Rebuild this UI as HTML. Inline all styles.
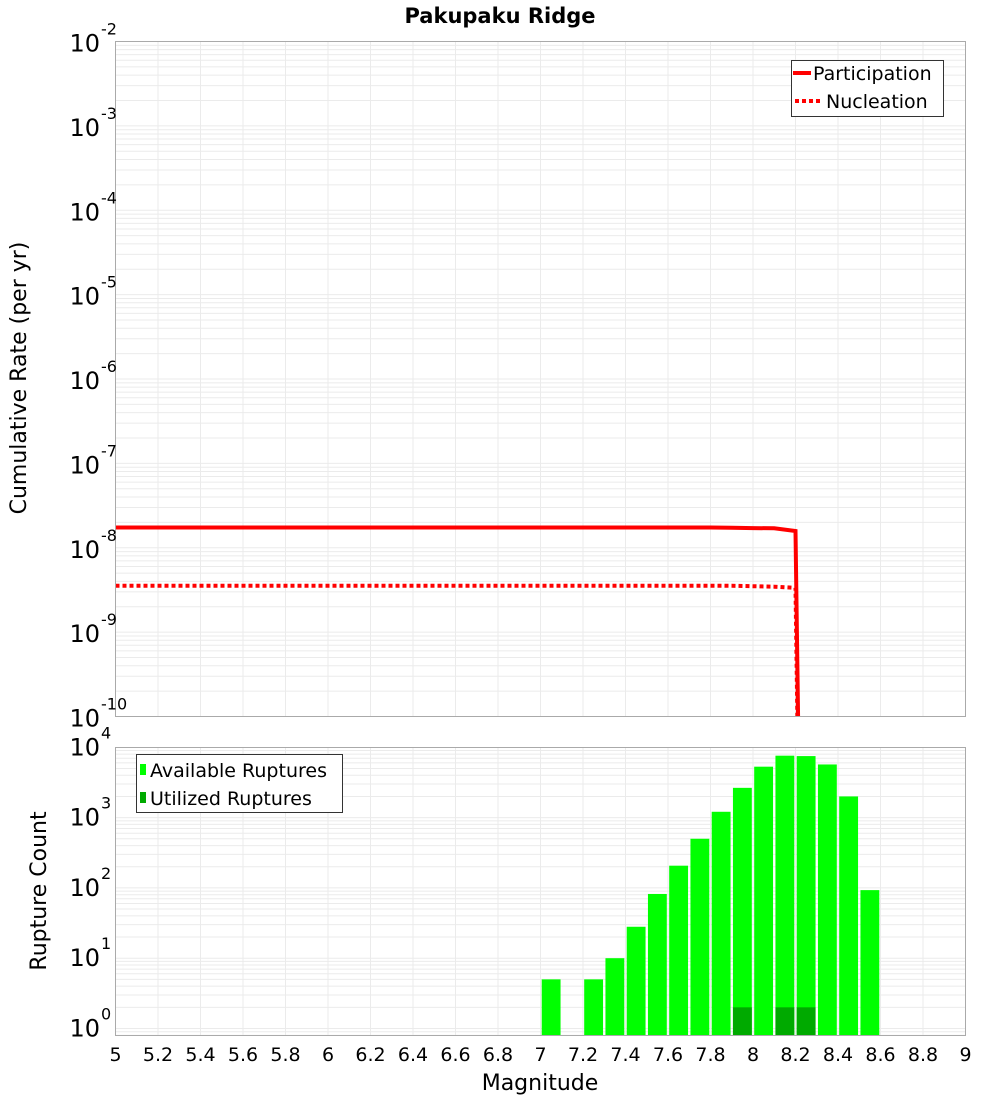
<!DOCTYPE html>
<html><head><meta charset="utf-8"><style>
html,body{margin:0;padding:0;background:#fff;}
svg{display:block;font-family:"DejaVu Sans","Liberation Sans",sans-serif;}
</style></head><body>
<svg id="chart" width="1000" height="1100" viewBox="0 0 1000 1100" xmlns="http://www.w3.org/2000/svg">
<text x="500" y="23" text-anchor="middle" font-size="21" font-weight="bold">Pakupaku Ridge</text>
<g id="topg"></g><g id="botg"></g>
<text transform="translate(26,378) rotate(-90)" text-anchor="middle" font-size="22">Cumulative Rate (per yr)</text>
<text transform="translate(46,891) rotate(-90)" text-anchor="middle" font-size="22">Rupture Count</text>
<text x="540" y="1090" text-anchor="middle" font-size="22">Magnitude</text>
</svg>
<script>
// data
const mags = [5.0,5.1,5.2,5.3,5.4,5.5,5.6,5.7,5.8,5.9,6.0,6.1,6.2,6.3,6.4,6.5,6.6,6.7,6.8,6.9,7.0,7.1,7.2,7.3,7.4,7.5,7.6,7.7,7.8,7.9,8.0,8.1,8.2,8.3];
const participation = [1.74e-8,1.74e-8,1.74e-8,1.74e-8,1.74e-8,1.74e-8,1.74e-8,1.74e-8,1.74e-8,1.74e-8,1.74e-8,1.74e-8,1.74e-8,1.74e-8,1.74e-8,1.74e-8,1.74e-8,1.74e-8,1.74e-8,1.74e-8,1.74e-8,1.74e-8,1.74e-8,1.74e-8,1.74e-8,1.74e-8,1.74e-8,1.74e-8,1.74e-8,1.73e-8,1.71e-8,1.70e-8,1.58e-8,1e-26];
const nucleation = [3.55e-9,3.55e-9,3.55e-9,3.55e-9,3.55e-9,3.55e-9,3.55e-9,3.55e-9,3.55e-9,3.55e-9,3.55e-9,3.55e-9,3.55e-9,3.55e-9,3.55e-9,3.55e-9,3.55e-9,3.55e-9,3.55e-9,3.55e-9,3.55e-9,3.55e-9,3.55e-9,3.55e-9,3.55e-9,3.55e-9,3.55e-9,3.55e-9,3.55e-9,3.54e-9,3.5e-9,3.45e-9,3.35e-9,1e-26];
const binStarts = [7.0,7.2,7.3,7.4,7.5,7.6,7.7,7.8,7.9,8.0,8.1,8.2,8.3,8.4,8.5];
const available = [5,5,10,28,82,207,500,1210,2650,5300,7600,7500,5700,2000,93];
const utilized = [0,0,0,0,0,0,0,0,2,0,2,2,0,0,0];
const xTicks = ["5","5.2","5.4","5.6","5.8","6","6.2","6.4","6.6","6.8","7","7.2","7.4","7.6","7.8","8","8.2","8.4","8.6","8.8","9"];
const topExps = [-2,-3,-4,-5,-6,-7,-8,-9,-10];
const botExps = [4,3,2,1,0];

const NS="http://www.w3.org/2000/svg";
function mk(p,tag,attrs){const e=document.createElementNS(NS,tag);for(const k in attrs)e.setAttribute(k,attrs[k]);p.appendChild(e);return e;}
const L=115.5,R=965.5;
const X=m=>L+(m-5)/4*(R-L);
const T0=41.5,T1=716.5;
const yTop=v=>T0+(-2-Math.log10(v))/8*(T1-T0);
const B0=747.5,B1=1035.5;
const d0=1028.5,dec=70.3;
const yBot=v=>d0-Math.log10(v)*dec;

function grid(g,y0,y1,yf,expLo,expHi){
  for(let e=expLo;e<=expHi;e++)for(let k=1;k<10;k++){const y=yf(k*Math.pow(10,e));if(y<y0-0.1||y>y1+0.1)continue;
    const l=mk(g,'line',{x1:L,x2:R,y1:y,y2:y,stroke:'#ebebeb','stroke-width':1});
    
    }
  for(let i=0;i<xTicks.length;i++){const x=X(parseFloat(xTicks[i]));
    const l=mk(g,'line',{x1:x,x2:x,y1:y0,y2:y1,stroke:'#ebebeb','stroke-width':1});
    
    }
}
function ylabel(g,y,exp){const t=mk(g,'text',{x:100,y:y+10,'text-anchor':'end','font-size':24});
  t.textContent='10';
  
  
  const s=mk(g,'text',{x:101,y:y-7,'font-size':16});s.textContent=String(exp);
  
  }

// top
const topG=document.getElementById('topg');
grid(topG,T0,T1,yTop,-10,-3);
const cp=mk(topG,'clipPath',{id:'ct'});mk(cp,'rect',{x:L,y:T0,width:R-L,height:T1-T0});
function line(data,dash,name){
  const pts=mags.map((m,i)=>X(m).toFixed(1)+','+yTop(data[i]).toFixed(1)).join(' ');
  const p=mk(topG,'polyline',{points:pts,fill:'none',stroke:'#ff0000','stroke-width':4,'clip-path':'url(#ct)'});
  if(dash)p.setAttribute('stroke-dasharray','4,3');
  
  
}
line(participation,false,'participation-line');
line(nucleation,true,'nucleation-line');
const tf=mk(topG,'rect',{x:L,y:T0,width:R-L,height:T1-T0,fill:'none',stroke:'#aaaaaa'});


topExps.forEach(e=>ylabel(topG,yTop(Math.pow(10,e)),e));
// top legend
const lg=mk(topG,'g',{});


mk(lg,'rect',{x:791.5,y:60.5,width:152,height:56,fill:'#fff',stroke:'#333'});
mk(lg,'line',{x1:793,x2:811,y1:73,y2:73,stroke:'#f00','stroke-width':4});
mk(lg,'line',{x1:795,x2:821,y1:101,y2:101,stroke:'#f00','stroke-width':4,'stroke-dasharray':'4,3'});
const t1=mk(lg,'text',{x:813,y:80,'font-size':19});t1.textContent='Participation';
const t2=mk(lg,'text',{x:826,y:108,'font-size':19});t2.textContent='Nucleation';

// bottom
const botG=document.getElementById('botg');
grid(botG,B0,B1,yBot,-1,4);
const bw=0.1/4*(R-L);
binStarts.forEach((m,i)=>{
  const x=X(m)+1.2,w=bw-2.4;
  const y=yBot(available[i]);
  const r=mk(botG,'rect',{x:x,y:y,width:w,height:B1-y,fill:'#00ff00'});
  
  
  if(utilized[i]>0){const yu=yBot(utilized[i]);
    const u=mk(botG,'rect',{x:x,y:yu,width:w,height:B1-yu,fill:'#00aa00'});
    
    }
});
const bf=mk(botG,'rect',{x:L,y:B0,width:R-L,height:B1-B0,fill:'none',stroke:'#aaaaaa'});


botExps.forEach(e=>ylabel(botG,yBot(Math.pow(10,e))-2,e));
xTicks.forEach(s=>{const t=mk(botG,'text',{x:X(parseFloat(s)),y:1061,'text-anchor':'middle','font-size':19});t.textContent=s;
  
  });
const lg2=mk(botG,'g',{});


mk(lg2,'rect',{x:136.5,y:754.5,width:206,height:58,fill:'#fff',stroke:'#333'});
mk(lg2,'rect',{x:140,y:764,width:6,height:11,fill:'#00ff00'});
mk(lg2,'rect',{x:140,y:792,width:6,height:11,fill:'#00aa00'});
const t3=mk(lg2,'text',{x:150,y:777,'font-size':19});t3.textContent='Available Ruptures';
const t4=mk(lg2,'text',{x:150,y:805,'font-size':19});t4.textContent='Utilized Ruptures';
</script>
</body></html>
